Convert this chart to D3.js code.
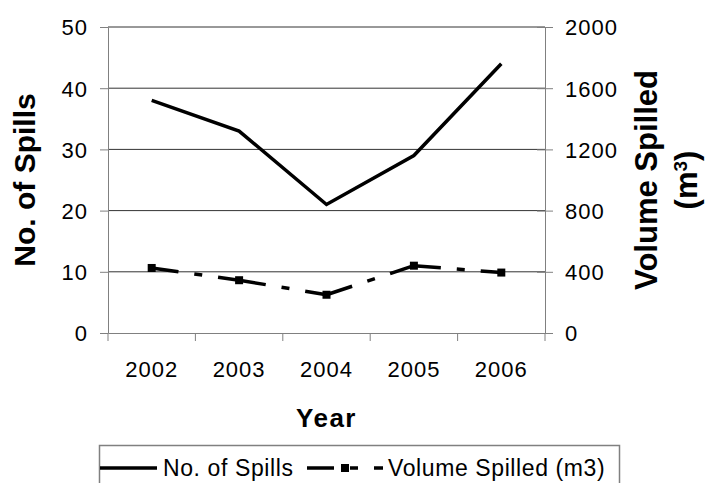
<!DOCTYPE html>
<html>
<head>
<meta charset="utf-8">
<script src="https://cdn.jsdelivr.net/npm/d3@7"></script>
<style>
  body { margin: 0; background: #fff; }
  text { font-family: "Liberation Sans", Arial, sans-serif; fill: #000; }
</style>
</head>
<body>
<div id="chart"></div>
<script>
// data
const years = ["2002", "2003", "2004", "2005", "2006"];
const spills = [38, 33, 21, 29, 44];
const volume = [425, 345, 250, 440, 395];
const leftTicks = [0, 10, 20, 30, 40, 50];
const rightTicks = [0, 400, 800, 1200, 1600, 2000];

const width = 716, height = 483;
const margin = {left: 108, right: 171, top: 27, bottom: 150};

const svg = d3.select("#chart")
  .append("svg")
  .attr("width", width)
  .attr("height", height);

const x = d3.scaleBand()
  .domain(years)
  .range([margin.left, width - margin.right]);

const yL = d3.scaleLinear()
  .domain([0, 50])
  .range([height - margin.bottom, margin.top]);

const yR = d3.scaleLinear()
  .domain([0, 2000])
  .range([height - margin.bottom, margin.top]);

const x0 = margin.left, x1 = width - margin.right;
const y0 = height - margin.bottom;

// gridlines
svg.append("g")
  .selectAll("line")
  .data(leftTicks.filter(d => d > 0))
  .enter()
  .append("line")
    .attr("x1", x0).attr("x2", x1)
    .attr("y1", d => yL(d)).attr("y2", d => yL(d))
    .attr("stroke", "#333").attr("stroke-width", 1);

// left axis
const gL = svg.append("g")
  .attr("transform", `translate(${x0},0)`)
  .call(d3.axisLeft(yL).tickValues(leftTicks).tickSizeInner(8).tickSizeOuter(0).tickPadding(12));
gL.select(".domain").attr("stroke", "#808080");
gL.selectAll(".tick line").attr("stroke", "#808080");
gL.selectAll(".tick text")
  .attr("font-size", "22px").attr("font-family", "Liberation Sans, Arial, sans-serif")
  .attr("letter-spacing", "1px").attr("fill", "#000").attr("dy", "0.36em");

// right axis
const gR = svg.append("g")
  .attr("transform", `translate(${x1},0)`)
  .call(d3.axisRight(yR).tickValues(rightTicks).tickFormat(d3.format("d"))
    .tickSizeInner(8).tickSizeOuter(0).tickPadding(12));
gR.select(".domain").attr("stroke", "#808080");
gR.selectAll(".tick line").attr("x1", -8).attr("x2", 8).attr("stroke", "#808080");
gR.selectAll(".tick text")
  .attr("font-size", "22px").attr("font-family", "Liberation Sans, Arial, sans-serif")
  .attr("letter-spacing", "1px").attr("fill", "#000").attr("dy", "0.36em");

// x axis
const gX = svg.append("g")
  .attr("transform", `translate(0,${y0})`)
  .call(d3.axisBottom(x).tickSize(0).tickPadding(28));
gX.select(".domain").attr("stroke", "#808080");
gX.selectAll(".tick text")
  .attr("font-size", "22px").attr("font-family", "Liberation Sans, Arial, sans-serif")
  .attr("letter-spacing", "1px").attr("fill", "#000");
gX.selectAll(".bound")
  .data(years.map(d => x(d)).concat([x1]))
  .enter()
  .append("line")
    .attr("x1", d => d).attr("x2", d => d)
    .attr("y1", 0).attr("y2", 8)
    .attr("stroke", "#808080");

// series
const cx = d => x(d) + x.bandwidth() / 2;

svg.append("path")
  .datum(years.map((d, i) => [cx(d), yL(spills[i])]))
  .attr("d", d3.line())
  .attr("fill", "none").attr("stroke", "#000").attr("stroke-width", 3.5);

const dash = "27,16,8,16";
for (let i = 0; i < years.length - 1; i++) {
  svg.append("line")
    .attr("x1", cx(years[i])).attr("y1", yR(volume[i]))
    .attr("x2", cx(years[i + 1])).attr("y2", yR(volume[i + 1]))
    .attr("stroke", "#000").attr("stroke-width", 3.5)
    .attr("stroke-dasharray", dash);
}
svg.selectAll(".mark")
  .data(years)
  .enter()
  .append("rect")
    .attr("x", d => cx(d) - 4)
    .attr("y", (d, i) => yR(volume[i]) - 4)
    .attr("width", 8).attr("height", 8)
    .attr("fill", "#000");

// axis titles
svg.append("text")
  .attr("transform", `translate(35,${(margin.top + y0) / 2}) rotate(-90)`)
  .attr("text-anchor", "middle")
  .attr("font-size", "30px").attr("font-weight", "bold")
  .text("No. of Spills");

const rt = svg.append("text")
  .attr("transform", `translate(${x1 + 118},${(margin.top + y0) / 2}) rotate(-90)`)
  .attr("text-anchor", "middle")
  .attr("font-size", "31px").attr("font-weight", "bold");
rt.append("tspan").attr("x", 0).attr("dy", "-0.2em").text("Volume Spilled");
rt.append("tspan").attr("x", 0).attr("dy", "1.3em").text("(m");
rt.append("tspan").attr("font-size", "19px").attr("dy", "-0.55em").text("3");
rt.append("tspan").attr("dy", "0.35em").text(")");

svg.append("text")
  .attr("x", (x0 + x1) / 2).attr("y", 427)
  .attr("text-anchor", "middle")
  .attr("font-size", "26px").attr("font-weight", "bold")
  .attr("letter-spacing", "1.5px")
  .text("Year");

// legend
const lg = svg.append("g");
lg.append("rect")
  .attr("x", 99.5).attr("y", 445.5).attr("width", 520).attr("height", 60)
  .attr("fill", "#fff").attr("stroke", "#808080").attr("stroke-width", 1.5);
lg.append("line")
  .attr("x1", 100).attr("x2", 157).attr("y1", 468).attr("y2", 468)
  .attr("stroke", "#000").attr("stroke-width", 3.5);
lg.append("text")
  .attr("x", 163).attr("y", 476)
  .attr("font-size", "23px").attr("letter-spacing", "0.6px")
  .text("No. of Spills");
lg.append("line")
  .attr("x1", 307).attr("x2", 383).attr("y1", 468).attr("y2", 468)
  .attr("stroke", "#000").attr("stroke-width", 3.5)
  .attr("stroke-dasharray", dash);
lg.append("rect")
  .attr("x", 341).attr("y", 464).attr("width", 8).attr("height", 8)
  .attr("fill", "#000");
lg.append("text")
  .attr("x", 388).attr("y", 476)
  .attr("font-size", "23px").attr("letter-spacing", "0.6px")
  .text("Volume Spilled (m3)");
</script>
</body>
</html>
